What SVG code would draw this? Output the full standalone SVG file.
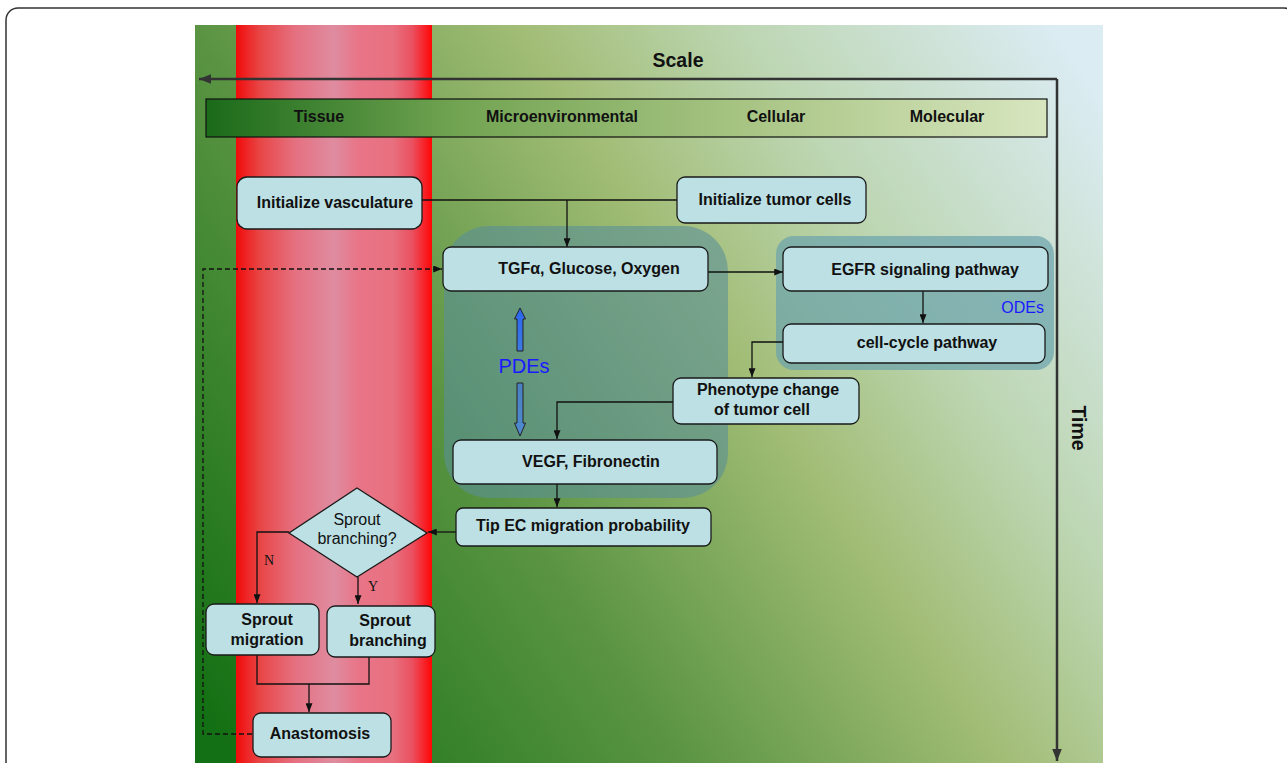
<svg xmlns="http://www.w3.org/2000/svg" width="1287" height="763" viewBox="0 0 1287 763">
<style>
.box{fill:#bce0e4;stroke:#1a1a1a;stroke-width:1.3}
.t{font-family:"Liberation Sans",Arial,sans-serif;font-weight:bold;font-size:16px;fill:#111;text-anchor:middle}
.tn{font-family:"Liberation Sans",Arial,sans-serif;font-size:16px;fill:#111;text-anchor:middle}
.lbl{font-family:"Liberation Serif","Times New Roman",serif;font-size:14px;fill:#111;text-anchor:middle}
.c{fill:none;stroke:#111;stroke-width:1.3}
.big{fill:none;stroke:#333;stroke-width:2.5}
.blue{font-family:"Liberation Sans",Arial,sans-serif;fill:#1a1aff}
</style>
<defs>
<linearGradient id="bg" gradientUnits="userSpaceOnUse" x1="195" y1="700" x2="1103" y2="100">
<stop offset="0" stop-color="#147014"/>
<stop offset="0.34" stop-color="#5a9442"/>
<stop offset="0.59" stop-color="#a2bd76"/>
<stop offset="0.75" stop-color="#bcd5b0"/>
<stop offset="1" stop-color="#dbecf3"/>
</linearGradient>
<linearGradient id="red" x1="0" y1="0" x2="1" y2="0">
<stop offset="0" stop-color="#f20a0a"/>
<stop offset="0.12" stop-color="#e84545"/>
<stop offset="0.3" stop-color="#e57080"/>
<stop offset="0.5" stop-color="#df8ca0"/>
<stop offset="0.62" stop-color="#e87588"/>
<stop offset="0.8" stop-color="#e8707f"/>
<stop offset="0.9" stop-color="#ea5060"/>
<stop offset="1" stop-color="#ff0505"/>
</linearGradient>
<linearGradient id="hdr" x1="0" y1="0" x2="1" y2="0">
<stop offset="0" stop-color="#1a6a1a"/>
<stop offset="0.3" stop-color="#72a452"/>
<stop offset="0.65" stop-color="#a9c585"/>
<stop offset="1" stop-color="#d8e6c0"/>
</linearGradient>
<linearGradient id="up" x1="0" y1="0" x2="0" y2="1">
<stop offset="0" stop-color="#2a66f0"/>
<stop offset="1" stop-color="#3d7ae0"/>
</linearGradient>
<linearGradient id="dn" x1="0" y1="0" x2="0" y2="1">
<stop offset="0" stop-color="#4a80c0"/>
<stop offset="1" stop-color="#4f8ad0"/>
</linearGradient>
<marker id="ar" viewBox="0 0 10 8" refX="10" refY="4" markerWidth="9" markerHeight="7" markerUnits="userSpaceOnUse" orient="auto">
<path d="M0,0 L10,4 L0,8 z" fill="#111"/>
</marker>
<marker id="arb" viewBox="0 0 10 8" refX="10" refY="4" markerWidth="12" markerHeight="10" markerUnits="userSpaceOnUse" orient="auto">
<path d="M0,0 L10,4 L0,8 z" fill="#333"/>
</marker>
</defs>

<rect x="6" y="8" width="1290" height="800" rx="12" fill="#fff" stroke="#333" stroke-width="1.5"/>

<g id="background">
<rect x="195" y="25" width="908" height="738" fill="url(#bg)"/>
<rect x="236" y="25" width="196" height="738" fill="url(#red)"/>
</g>

<g id="regions">
<rect id="pde-region" x="444" y="226" width="284" height="272" rx="45" fill="#5a8f98" fill-opacity="0.6"/>
<rect id="ode-region" x="776" y="236" width="278" height="134" rx="18" fill="#6aa3ac" fill-opacity="0.7"/>
</g>

<g id="scale-axis">
<path class="big" d="M1057,79 L199,79" marker-end="url(#arb)"/>
<path class="big" d="M1057,79 L1057,761" marker-end="url(#arb)"/>
<text x="678" y="67" class="t" style="font-size:19.5px">Scale</text>
<text x="1079" y="428" class="t" style="font-size:19.5px" transform="rotate(90 1079 428)" dominant-baseline="central">Time</text>
</g>

<g id="header">
<rect x="206" y="99" width="841" height="38" fill="url(#hdr)" stroke="#111" stroke-width="1.2"/>
<text x="319" y="122" class="t">Tissue</text>
<text x="562" y="122" class="t">Microenvironmental</text>
<text x="776" y="122" class="t">Cellular</text>
<text x="947" y="122" class="t">Molecular</text>
</g>

<g id="connectors">
<path class="c" d="M422,200 L677,200"/>
<path class="c" d="M567,200 L567,247" marker-end="url(#ar)"/>
<path class="c" d="M708,272 L783,272" marker-end="url(#ar)"/>
<path class="c" d="M923,291 L923,323" marker-end="url(#ar)"/>
<path class="c" d="M783,342 L752,342 L752,377" marker-end="url(#ar)"/>
<path class="c" d="M673,402 L557,402 L557,439" marker-end="url(#ar)"/>
<path class="c" d="M557,484 L557,507" marker-end="url(#ar)"/>
<path class="c" d="M456,532 L428,532" marker-end="url(#ar)"/>
<path class="c" d="M289,532 L257,532 L257,603" marker-end="url(#ar)"/>
<path class="c" d="M358,577 L358,604" marker-end="url(#ar)"/>
<path class="c" d="M257,655 L257,684 L369,684 L369,657"/>
<path class="c" d="M309,684 L309,712" marker-end="url(#ar)"/>
<path class="c" d="M252,734 L203,734 L203,269 L442,269" stroke-dasharray="5,3" marker-end="url(#ar)"/>
<text x="269" y="565" class="lbl">N</text>
<text x="373" y="591" class="lbl">Y</text>
</g>

<g id="pde-arrows">
<polygon points="520,308 525.5,319 523,319 523,351 517,351 517,319 514.5,319" fill="url(#up)" stroke="#222" stroke-width="1"/>
<polygon points="517,383 523,383 523,423 525.5,423 520,436 514.5,423 517,423" fill="url(#dn)" stroke="#222" stroke-width="1"/>
<text x="524" y="373" class="blue" style="font-size:20px" text-anchor="middle">PDEs</text>
</g>

<g id="init-vasculature">
<rect class="box" x="237" y="177" width="185" height="52" rx="10"/>
<text x="335" y="208" class="t">Initialize vasculature</text>
</g>

<g id="init-tumor">
<rect class="box" x="677" y="177" width="189" height="46" rx="8"/>
<text x="775" y="205" class="t">Initialize tumor cells</text>
</g>

<g id="tgf">
<rect class="box" x="443" y="247" width="265" height="44" rx="8"/>
<text x="589" y="274" class="t">TGFα, Glucose, Oxygen</text>
</g>

<g id="egfr">
<rect class="box" x="783" y="247" width="265" height="44" rx="8"/>
<text x="925" y="275" class="t">EGFR signaling pathway</text>
</g>

<g id="odes-label">
<text x="1044" y="313" class="blue" style="font-size:16px" text-anchor="end">ODEs</text>
</g>

<g id="cell-cycle">
<rect class="box" x="783" y="324" width="262" height="39" rx="8"/>
<text x="927" y="348" class="t">cell-cycle pathway</text>
</g>

<g id="phenotype">
<rect class="box" x="673" y="378" width="186" height="46" rx="8"/>
<text x="768" y="395" class="t">Phenotype change</text>
<text x="762" y="415" class="t">of tumor cell</text>
</g>

<g id="vegf">
<rect class="box" x="453" y="440" width="264" height="44" rx="8"/>
<text x="591" y="467" class="t">VEGF, Fibronectin</text>
</g>

<g id="tip-ec">
<rect class="box" x="456" y="508" width="255" height="38" rx="7"/>
<text x="583" y="531" class="t">Tip EC migration probability</text>
</g>

<g id="decision">
<polygon class="box" points="357,488 427,533 357,577 289,533"/>
<text x="357" y="525" class="tn">Sprout</text>
<text x="357" y="544" class="tn">branching?</text>
</g>

<g id="sprout-migration">
<rect class="box" x="206" y="604" width="113" height="51" rx="8"/>
<text x="267" y="625" class="t">Sprout</text>
<text x="267" y="645" class="t">migration</text>
</g>

<g id="sprout-branching">
<rect class="box" x="327" y="606" width="108" height="51" rx="8"/>
<text x="385" y="626" class="t">Sprout</text>
<text x="388" y="646" class="t">branching</text>
</g>

<g id="anastomosis">
<rect class="box" x="253" y="713" width="138" height="44" rx="8"/>
<text x="320" y="739" class="t">Anastomosis</text>
</g>
</svg>
